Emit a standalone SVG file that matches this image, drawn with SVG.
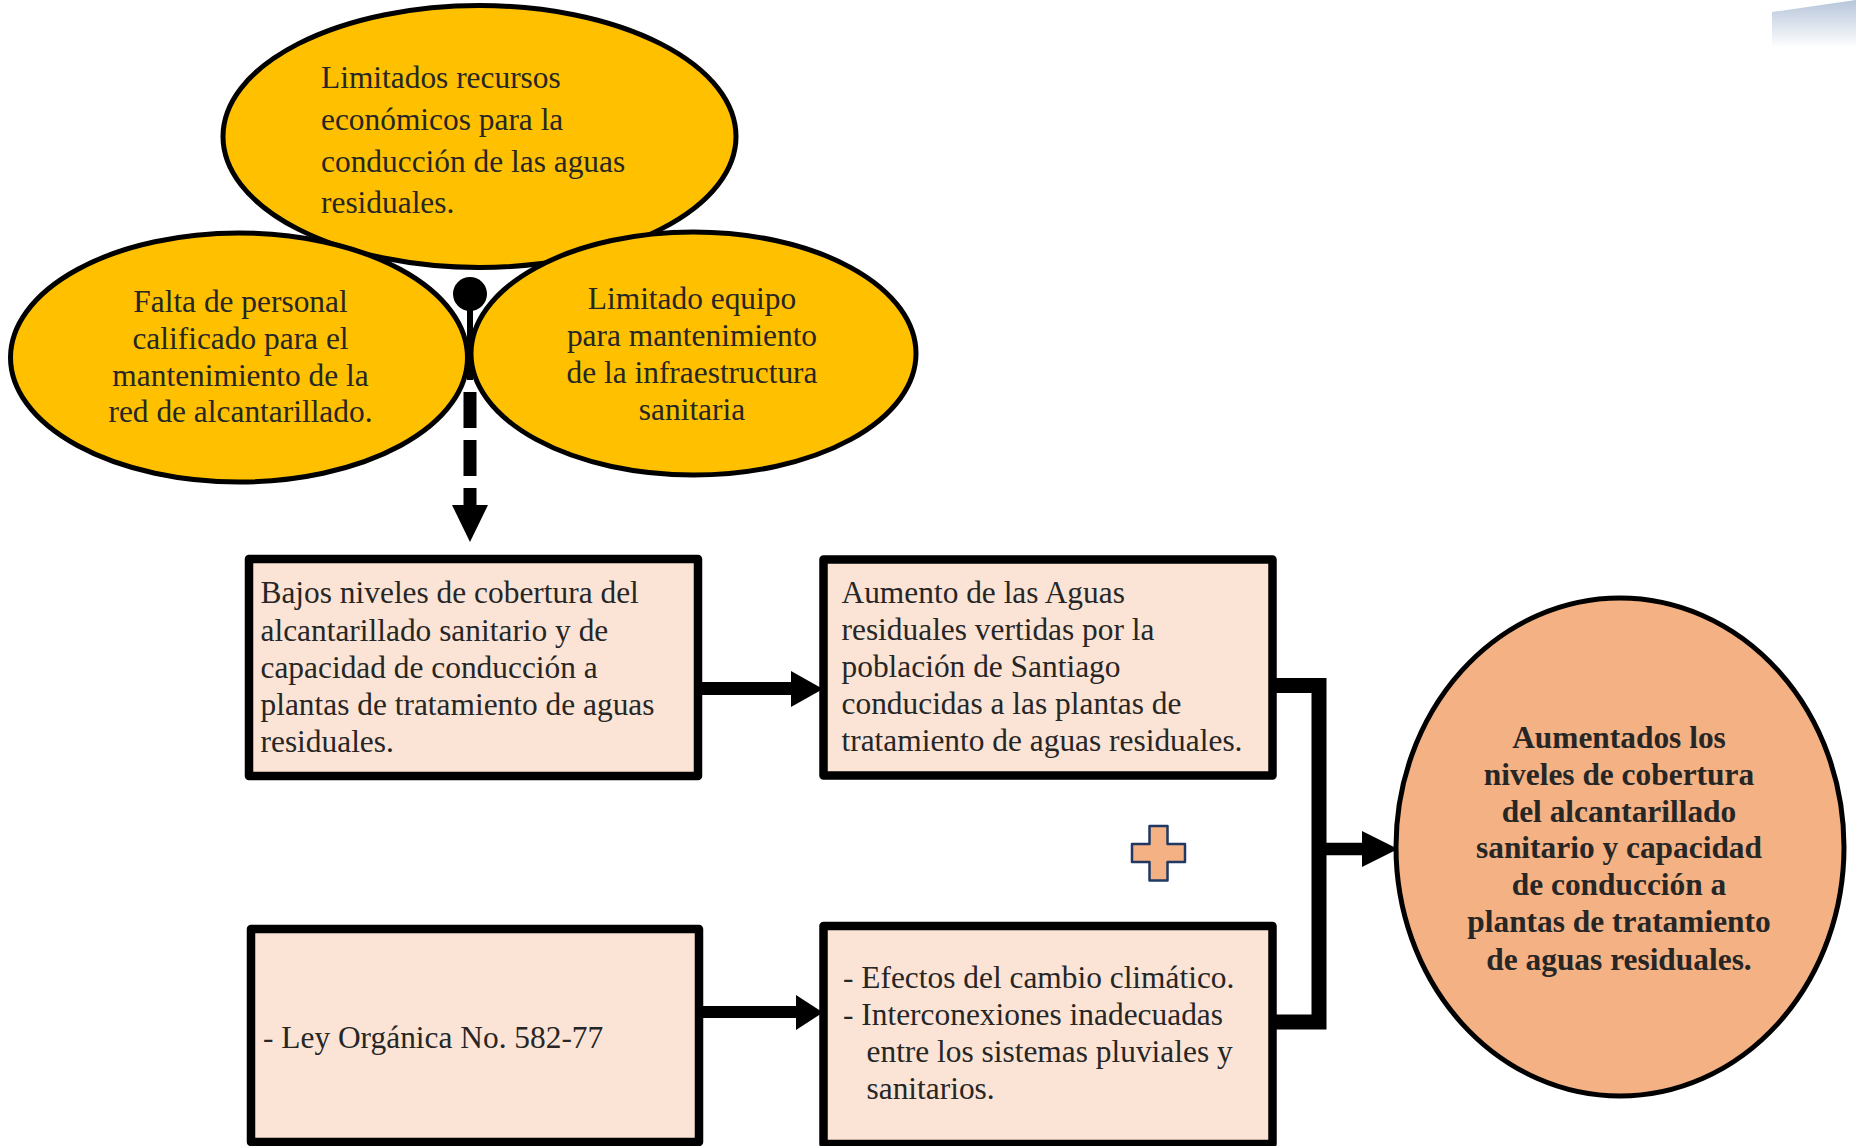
<svg xmlns="http://www.w3.org/2000/svg" width="1856" height="1146" viewBox="0 0 1856 1146">
<defs>
<linearGradient id="deco" x1="0" y1="0" x2="0" y2="1">
<stop offset="0" stop-color="#aebfd6"/>
<stop offset="1" stop-color="#ffffff"/>
</linearGradient>
<style>
.cause{fill:#FFC000;stroke:#000;stroke-width:5}
.box{fill:#FBE4D5;stroke:#000;stroke-width:8.5;stroke-linejoin:round}
.goal{fill:#F4B183;stroke:#000;stroke-width:5}
.t{font-family:"Liberation Serif","Times New Roman",serif;font-size:31.4px;fill:#262626}
.c{text-anchor:middle}
.b{font-weight:bold}
.ln{stroke:#000;fill:none}
.hd{fill:#000}
</style>
</defs>
<rect width="1856" height="1146" fill="#fff"/>
<polygon points="1772,12 1856,0 1856,48 1772,48" fill="url(#deco)" opacity="0.9"/>

<g id="cause-top">
<ellipse class="cause" cx="479.5" cy="136.5" rx="256.5" ry="131"/>
<text class="t"><tspan x="321" y="88">Limitados recursos</tspan><tspan x="321" y="129.5">económicos para la</tspan><tspan x="321" y="171.5">conducción de las aguas</tspan><tspan x="321" y="213">residuales.</tspan></text>
</g>
<g id="cause-left">
<ellipse class="cause" cx="239" cy="357.5" rx="228.5" ry="124.5"/>
<text class="t c"><tspan x="240.5" y="312">Falta de personal</tspan><tspan x="240.5" y="348.7">calificado para el</tspan><tspan x="240.5" y="385.7">mantenimiento de la</tspan><tspan x="240.5" y="422.3">red de alcantarillado.</tspan></text>
</g>
<g id="cause-right">
<ellipse class="cause" cx="693.5" cy="353.5" rx="222.5" ry="121.5"/>
<text class="t c"><tspan x="692" y="309">Limitado equipo</tspan><tspan x="692" y="346">para mantenimiento</tspan><tspan x="692" y="383">de la infraestructura</tspan><tspan x="692" y="419.5">sanitaria</tspan></text>
</g>

<g id="box-bajos">
<rect class="box" x="249" y="559" width="449" height="217"/>
<text class="t"><tspan x="260.5" y="603.3">Bajos niveles de cobertura del</tspan><tspan x="260.5" y="640.5">alcantarillado sanitario y de</tspan><tspan x="260.5" y="677.6">capacidad de conducción a</tspan><tspan x="260.5" y="714.8">plantas de tratamiento de aguas</tspan><tspan x="260.5" y="751.8">residuales.</tspan></text>
</g>
<g id="box-aumento">
<rect class="box" x="823.5" y="559.5" width="449" height="216"/>
<text class="t"><tspan x="841.5" y="603">Aumento de las Aguas</tspan><tspan x="841.5" y="640">residuales vertidas por la</tspan><tspan x="841.5" y="677">población de Santiago</tspan><tspan x="841.5" y="714">conducidas a las plantas de</tspan><tspan x="841.5" y="751">tratamiento de aguas residuales.</tspan></text>
</g>
<g id="box-ley">
<rect class="box" x="251" y="929" width="448" height="213"/>
<text class="t"><tspan x="263" y="1048">- Ley Orgánica No. 582-77</tspan></text>
</g>
<g id="box-efectos">
<rect class="box" x="823.5" y="926" width="449" height="218"/>
<text class="t"><tspan x="843" y="988">- Efectos del cambio climático.</tspan><tspan x="843" y="1025">- Interconexiones inadecuadas</tspan><tspan x="866.5" y="1061.7">entre los sistemas pluviales y</tspan><tspan x="866.5" y="1098.5">sanitarios.</tspan></text>
</g>
<g id="goal">
<ellipse class="goal" cx="1620" cy="847" rx="224" ry="249"/>
<text class="t c b"><tspan x="1619" y="748.3">Aumentados los</tspan><tspan x="1619" y="785">niveles de cobertura</tspan><tspan x="1619" y="821.7">del alcantarillado</tspan><tspan x="1619" y="858.3">sanitario y capacidad</tspan><tspan x="1619" y="895">de conducción a</tspan><tspan x="1619" y="931.7">plantas de tratamiento</tspan><tspan x="1619" y="970">de aguas residuales.</tspan></text>
</g>
<g id="plus">
<path d="M1149.5,826 H1167.5 V844 H1185 V862 H1167.5 V880.5 H1149.5 V862 H1132 V844 H1149.5 Z" fill="#F4B183" stroke="#1F3864" stroke-width="2.5" stroke-linejoin="round"/>
</g>

<g id="connectors">
<circle cx="470" cy="294" r="17" fill="#000"/>
<line class="ln" x1="470" y1="305" x2="470" y2="380" stroke-width="6"/>
<line class="ln" x1="470" y1="392" x2="470" y2="505" stroke-width="13" stroke-dasharray="36 12"/>
<polygon class="hd" points="452,505 470,542 488,505"/>
<line class="ln" x1="700" y1="688.5" x2="792" y2="688.5" stroke-width="13"/>
<polygon class="hd" points="791,671 823,689 791,707"/>
<line class="ln" x1="701" y1="1012" x2="797" y2="1012" stroke-width="12"/>
<polygon class="hd" points="796,995 823,1012.5 796,1030"/>
<path class="ln" d="M1275,685.5 H1319 V1022 H1275" stroke-width="15" stroke-linejoin="miter"/>
<line class="ln" x1="1319" y1="849" x2="1363" y2="849" stroke-width="12.5"/>
<polygon class="hd" points="1362,831 1398,849 1362,867"/>
</g>
</svg>
